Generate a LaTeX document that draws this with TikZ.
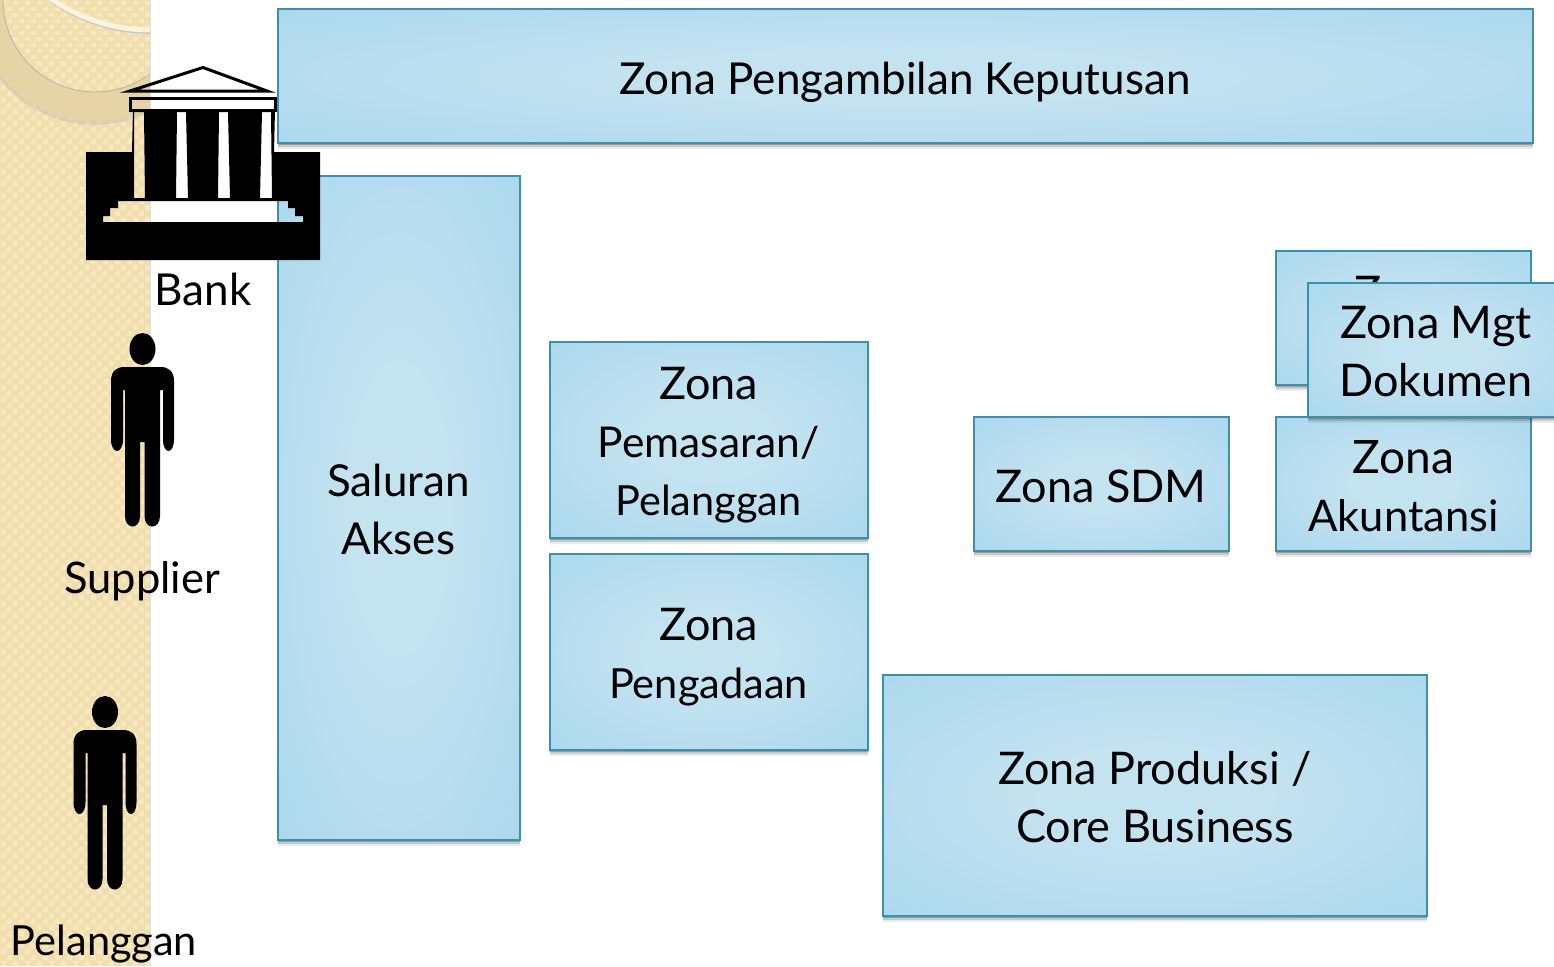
\documentclass[tikz,border=0pt]{standalone}
\usepackage{fontspec}
\setmainfont{Lato}
\usetikzlibrary{shadows}
\definecolor{zc}{HTML}{C4E3F1}
\definecolor{ze}{HTML}{A2D4EC}
\definecolor{zedge}{HTML}{3A92AA}
\definecolor{tanbase}{HTML}{F0DEAF}
\definecolor{tanlight}{HTML}{F8E8BF}
\definecolor{tanring}{HTML}{E6D4A6}
\pgfdeclareradialshading{zrad}{\pgfpoint{0bp}{0bp}}{color(0bp)=(zc); color(10bp)=(zc); color(46bp)=(ze); color(100bp)=(ze)}
\tikzset{
  zbox/.style={draw=zedge, line width=2.2pt, shading=zrad, inner sep=0pt, align=center,
    general shadow={shadow yshift=-6pt, shadow xshift=0pt, fill=black, opacity=.08},
    general shadow={shadow yshift=-4pt, shadow xshift=0pt, fill=black, opacity=.14},
    general shadow={shadow yshift=-2pt, shadow xshift=0pt, fill=black, opacity=.22}},
  blacktext/.style={font=\fontsize{44}{58}\selectfont, inner sep=0pt, anchor=base, text=black},
  narrowline/.style={font=\fontsize{42.5}{58}\selectfont},
  templeline/.style={draw=black, line width=3pt, line join=miter}
}
\newcommand{\personfig}[2]{%
  \begin{scope}[shift={(#1,#2)}]
    \fill[black] (0,0) ellipse [x radius=13, y radius=16];
    \fill[black] (-31.5,32) -- (-31.5,90) .. controls (-31.5,106) and (-19.5,106) .. (-19.5,90)
      -- (-19.5,41) -- (-17.5,41) -- (-17.5,167)
      .. controls (-17.5,181) and (-2.5,181) .. (-2.5,167) -- (-2.5,93) -- (2,93) -- (2,167)
      .. controls (2,181) and (17.5,181) .. (17.5,167) -- (17.5,41) -- (20.5,41) -- (20.5,90)
      .. controls (20.5,106) and (31.5,106) .. (31.5,90) -- (31.5,32)
      .. controls (31.5,22) and (26,18) .. (18,18) -- (-18,18) .. controls (-26,18) and (-31.5,22) .. (-31.5,32) -- cycle;
  \end{scope}}
\begin{document}
\begin{tikzpicture}[x=1pt,y=-1pt]
\useasboundingbox (0,0) rectangle (1554,966);
\clip (0,0) rectangle (1554,966);
\fill[white] (0,0) rectangle (1554,966);
% patterned side band
\fill[tanbase] (0,0) rectangle (150,966);
\begin{scope}
  \clip (0,0) rectangle (150,966);
  \foreach \i in {0,...,12} \foreach \j in {0,...,80} {
    \fill[tanlight] (\i*12+1,\j*12+1) rectangle ++(4.5,4.5);
    \fill[tanlight] (\i*12+7,\j*12+7) rectangle ++(4.5,4.5);
  }
  % ring ornament
  \fill[black!30, opacity=.35, even odd rule] (95,3) circle (122) (95,0) circle (92);
  \fill[tanring, even odd rule] (95,0) circle (121) (95,0) circle (92);
  \draw[black!30, line width=.8pt] (95,0) circle (92);
  \draw[black!22, line width=2pt] (50,1) .. controls (80,22) and (115,33) .. (150,33);
  \draw[tanlight!50!white, line width=5pt] (50,-2) .. controls (80,19) and (115,30) .. (150,30);
\end{scope}
\fill[black!12] (150,0) rectangle (151,966);
% boxes
\node[zbox, minimum width=1255pt, minimum height=134pt] (keputusan) at (905.5,76) {};
\node[blacktext] (keputusantxt) at (905,94.5) {Zona Pengambilan Keputusan};
\node[zbox, minimum width=242pt, minimum height=664pt] (saluran) at (399,508) {};
\node[blacktext, align=center] (salurantxt) at (398.5,554) {Saluran\\Akses};
\node[zbox, minimum width=318pt, minimum height=196pt] (pemasaran) at (709,440) {};
\node[blacktext, narrowline, align=center] (pemasarantxt) at (708.5,515) {{\fontsize{45}{57.5}\selectfont Zona}\\Pemasaran/\\{\fontsize{41.5}{57.5}\selectfont Pelanggan}};
\node[zbox, minimum width=318pt, minimum height=196pt] (pengadaan) at (709,652) {};
\node[blacktext, narrowline, align=center] (pengadaantxt) at (708.5,698) {{\fontsize{45}{58}\selectfont Zona}\\{\fontsize{41.5}{58}\selectfont Pengadaan}};
\node[zbox, minimum width=255pt, minimum height=134pt] (sdm) at (1101.5,484) {};
\node[blacktext, font=\fontsize{45}{58}\selectfont] (sdmtxt) at (1101,502) {Zona SDM};
\node[zbox, minimum width=255pt, minimum height=134pt] (akuntansi) at (1403.5,484) {};
\node[blacktext, align=center] (akuntansitxt) at (1403.5,531) {{\fontsize{46}{58}\selectfont Zona}\\{\fontsize{43.5}{58}\selectfont Akuntansi}};
\node[zbox, minimum width=255pt, minimum height=134pt] (back) at (1403.5,318) {};
\node[blacktext, font=\fontsize{45}{58}\selectfont] (backtxt) at (1403.5,308) {Zona};
\node[zbox, minimum width=260pt, minimum height=134pt] (mgt) at (1438,350) {};
\node[blacktext, font=\fontsize{45}{58}\selectfont, align=center] (mgttxt) at (1436,396) {Zona Mgt\\Dokumen};
\node[zbox, minimum width=544pt, minimum height=241pt] (produksi) at (1155,795.5) {};
\node[blacktext, font=\fontsize{45}{58}\selectfont, align=center] (produksitxt) at (1155,842) {Zona Produksi /\\Core Business};
% bank building
\fill[black, even odd rule]
  (86,152) -- (132,152) -- (133,110) -- (275,110) -- (274,152) -- (320,152) -- (320,260) -- (86,260) -- cycle
  (134,112) -- (144,112) -- (145,198) -- (134,198) -- cycle
  (177,112) -- (186,112) -- (188,198) -- (176,198) -- cycle
  (219,112) -- (228,112) -- (230,198) -- (218,198) -- cycle
  (262,112) -- (271,112) -- (272,198) -- (260,198) -- cycle
  (118,201) -- (288,201) -- (288,208) -- (295,208) -- (295,216) -- (303,216) -- (303,222)
  -- (103,222) -- (103,216) -- (110,216) -- (110,208) -- (118,208) -- cycle;
\draw[templeline] (130,91) -- (203,67.5) -- (267,91) -- cycle;
\draw[templeline] (130.5,98) rectangle (275.5,110);
\node[blacktext] (bank) at (203,305) {Bank};
% persons
\personfig{142.5}{349}
\node[blacktext, font=\fontsize{43.5}{58}\selectfont] (supplier) at (142,593) {Supplier};
\personfig{105}{712}
\node[blacktext, font=\fontsize{41.5}{58}\selectfont] (pelanggan) at (104,955) {Pelanggan};
\end{tikzpicture}
\end{document}
